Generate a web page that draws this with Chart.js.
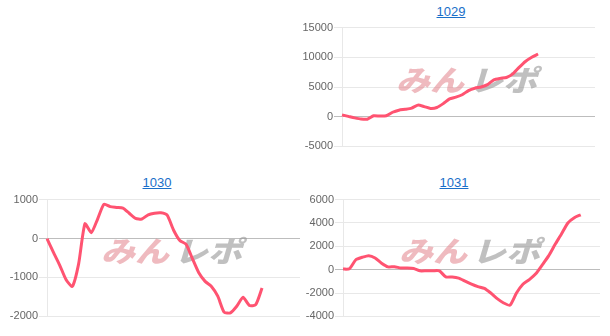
<!DOCTYPE html>
<html>
<head>
<meta charset="utf-8">
<script src="https://cdn.jsdelivr.net/npm/chart.js@4.4.1/dist/chart.umd.min.js"></script>
<style>
  body { margin: 0; background: #fff; width: 610px; height: 336px; position: relative; overflow: hidden; }
  .title { position: absolute; width: 100px; text-align: center; font: 13px "Liberation Sans", Arial, sans-serif; line-height: 15px; }
  .title a { color: #1a6fc9; text-decoration: underline; }
  canvas { position: absolute; }
</style>
</head>
<body>
<div class="title" style="left:401px; top:4px;"><a href="#">1029</a></div>
<div class="title" style="left:107px; top:175px;"><a href="#">1030</a></div>
<div class="title" style="left:404px; top:175px;"><a href="#">1031</a></div>
<canvas id="c1029" width="300" height="134" style="left:300px; top:20px;"></canvas>
<canvas id="c1030" width="305" height="132" style="left:0px; top:192px;"></canvas>
<canvas id="c1031" width="305" height="132" style="left:300px; top:192px;"></canvas>
<script>
// x slots shared by all three graphs (ticks hidden)
const xLabels = Array.from({ length: 41 }, (_, i) => i);

// differential coins per machine
const data1029 = [300, 50, -200, -400, -420, 150, 100, 150, 750, 1100, 1250, 1450, 1950, 1700, 1400, 1550,
    2200, 3000, 3300, 3700, 4400, 4800, 5000, 5400, 6200, 6450, 6600, 7200, 8300, 9300, 10000, 10550];
const data1030 = [0, -350, -680, -1050, -1230, -650, 380, 150, 500, 880, 820, 800, 780, 650, 520, 500,
    610, 650, 660, 600, 220, -50, -150, -520, -880, -1100, -1230, -1480, -1890, -1910, -1740, -1510,
    -1720, -1700, -1270];
const data1031 = [50, 80, 850, 1060, 1200, 1000, 550, 240, 260, 140, 140, 100, -100, -90, -90, -100,
    -620, -620, -720, -980, -1240, -1450, -1600, -2000, -2480, -2850, -3040, -2000, -1250, -850, -350,
    400, 1180, 2150, 3050, 4000, 4450, 4700];

// y axis ranges: [min, max, step]
const range1029 = [-5000, 15000, 5000];
const range1030 = [-2000, 1000, 1000];
const range1031 = [-4000, 6000, 2000];

// logo drawn behind the line
const watermark = {
    id: 'watermark',
    beforeDatasetsDraw(chart) {
        const { ctx, chartArea } = chart;
        const cx = (chartArea.left + chartArea.right) / 2 - 2;
        const cy = (chartArea.top + chartArea.bottom) / 2 - 7;
        ctx.save();
        ctx.translate(0, cy);
        ctx.scale(1, 0.85);
        ctx.font = 'italic 900 34px "Noto Sans CJK JP"';
        ctx.textBaseline = 'middle';
        const a = 'みん', b = 'レポ';
        const wa = ctx.measureText(a).width, wb = ctx.measureText(b).width;
        const x0 = cx - (wa + wb + 5) / 2;
        ctx.fillStyle = 'rgba(225, 130, 138, 0.55)';
        ctx.fillText(a, x0, 0);
        ctx.fillStyle = 'rgba(150, 150, 150, 0.6)';
        ctx.fillText(b, x0 + wa + 5, 0);
        ctx.restore();
    }
};

function makeChart(id, values, range, axisWidth) {
    return new Chart(document.getElementById(id), {
        type: 'line',
        data: {
            labels: xLabels,
            datasets: [{
                data: values,
                borderColor: '#ff5371',
                borderWidth: 3,
                pointRadius: 0,
                tension: 0.2,
                fill: false
            }]
        },
        options: {
            responsive: false,
            animation: false,
            layout: { padding: { top: 0, bottom: 0, right: 5, left: 0 } },
            plugins: { legend: { display: false }, tooltip: { enabled: false } },
            scales: {
                x: { display: false },
                y: {
                    min: range[0],
                    max: range[1],
                    afterFit(scale) { scale.width = axisWidth; },
                    ticks: {
                        stepSize: range[2],
                        padding: 1,
                        color: '#666',
                        font: { family: '"Liberation Sans", Arial, sans-serif', size: 11 },
                        callback: (v) => String(v)
                    },
                    grid: {
                        drawTicks: true,
                        tickLength: 8,
                        color: (c) => c.tick && c.tick.value === 0 ? '#bdbdbd' : '#e8e8e8'
                    },
                    border: { color: '#e8e8e8' }
                }
            }
        },
        plugins: [watermark]
    });
}

makeChart('c1029', data1029, range1029, 42);
makeChart('c1030', data1030, range1030, 47);
makeChart('c1031', data1031, range1031, 43);
</script>
</body>
</html>
